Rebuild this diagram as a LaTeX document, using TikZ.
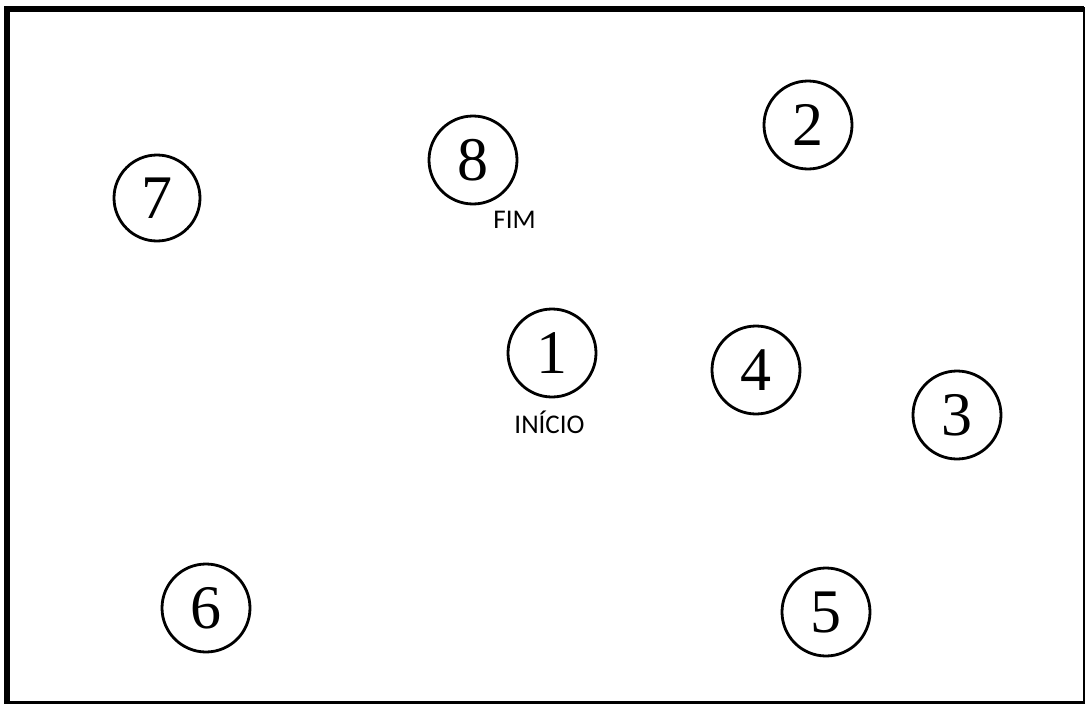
\documentclass[tikz,border=0pt]{standalone}
\usepackage{fontspec}
\newfontfamily\tagfont{Carlito}
\newfontfamily\digitfont{Liberation Serif}
\tikzset{
  spot/.style={circle, draw, line width=2.8pt, minimum size=88pt, inner sep=0pt,
    font=\digitfont\fontsize{62}{62}\selectfont},
  tag/.style={anchor=base, inner sep=0pt, font=\tagfont\fontsize{27}{27}\selectfont}
}
\begin{document}
\begin{tikzpicture}[x=1pt, y=-1pt]
\useasboundingbox (0,0) rectangle (1088,704);
%%%%%%%%%%%%%%%%%%%
% The frame

\fill [white] (0,0) rectangle (1088,704);
\draw [line width=6pt] (7,703) -- (7,9) -- (1084,9);
\draw [line width=2.5pt] (1084,7) -- (1084,702.5) -- (4,702.5);

%%%%%%%%%%%%%%%%%%%
% The points

\node [spot] (p1) at (552,353) {1};
\node [spot] (p2) at (808,125) {2};
\node [spot] (p3) at (957,415) {3};
\node [spot] (p4) at (756,370) {4};
\node [spot] (p5) at (826,612) {5};
\node [spot] (p6) at (206,608) {6};
\node [spot, minimum size=86pt] (p7) at (157,198) {7};
\node [spot] (p8) at (473,160) {8};

%%%%%%%%%%%%%%%%%%%
% Start and end

\node [tag] (fim) at (514.5,228) {FIM};
\node [tag] (inicio) at (549.5,433) {INÍCIO};

\end{tikzpicture}
\end{document}
